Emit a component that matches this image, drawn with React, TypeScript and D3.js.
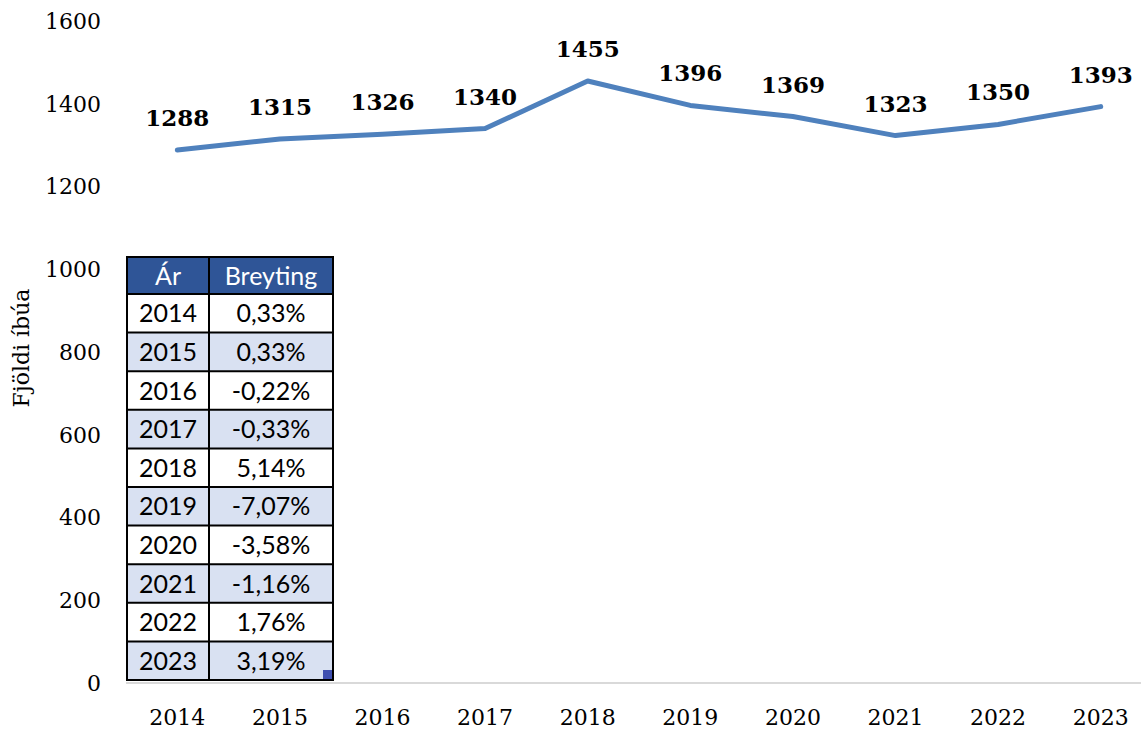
import React from "react";
import * as d3 from "d3";

const years = ["2014", "2015", "2016", "2017", "2018", "2019", "2020", "2021", "2022", "2023"];
const residents = [1288, 1315, 1326, 1340, 1455, 1396, 1369, 1323, 1350, 1393];
const yTicks = [0, 200, 400, 600, 800, 1000, 1200, 1400, 1600];
const tableHeader = ["Ár", "Breyting"];
const tableYears = ["2014", "2015", "2016", "2017", "2018", "2019", "2020", "2021", "2022", "2023"];
const tableChanges = ["0,33%", "0,33%", "-0,22%", "-0,33%", "5,14%", "-7,07%", "-3,58%", "-1,16%", "1,76%", "3,19%"];

const W = 1141;
const H = 733;

export default function App() {
  const x = d3.scaleBand<string>().domain(years).range([126, 1152]);
  const y = d3.scaleLinear().domain([0, 1600]).range([683, 21]);
  const line = d3
    .line<number>()
    .x((_, i) => (x(years[i]) as number) + x.bandwidth() / 2)
    .y((d) => y(d));

  const serif = "'DejaVu Serif', serif";
  const sans = "Lato, 'Open Sans', sans-serif";

  // table layout
  const tX = d3.scaleOrdinal<number, number>().domain([0, 1, 2]).range([127, 209, 333]);
  const rowY = d3.scaleLinear().domain([0, 10]).range([294, 680]);
  const headTop = 257;

  return (
    <svg width={W} height={H} style={{ position: "absolute", left: 0, top: 0, background: "#fff" }}>
      {/* y tick labels */}
      {yTicks.map((t) => (
        <text key={t} x={101} y={y(t)} dy="0.36em" textAnchor="end" fontFamily={serif} fontSize={22} fill="#000">
          {t}
        </text>
      ))}
      {/* y title */}
      <text
        transform={`translate(29,348) rotate(-90)`}
        textAnchor="middle"
        fontFamily={serif}
        fontSize={22}
        fill="#000"
      >
        Fjöldi íbúa
      </text>
      {/* x axis line */}
      <line x1={126} x2={W} y1={y(0)} y2={y(0)} stroke="#D9D9D9" strokeWidth={2} />
      {/* x labels */}
      {years.map((yr) => (
        <text
          key={yr}
          x={(x(yr) as number) + x.bandwidth() / 2}
          y={725}
          textAnchor="middle"
          fontFamily={serif}
          fontSize={22}
          fill="#000"
        >
          {yr}
        </text>
      ))}
      {/* line */}
      <path d={line(residents) || ""} fill="none" stroke="#4F81BD" strokeWidth={5} strokeLinecap="round" strokeLinejoin="round" />
      {/* data labels */}
      {residents.map((v, i) => (
        <text
          key={i}
          x={(x(years[i]) as number) + x.bandwidth() / 2}
          y={y(v) - 24}
          textAnchor="middle"
          fontFamily={serif}
          fontWeight="bold"
          fontSize={23}
          fill="#000"
        >
          {v}
        </text>
      ))}
      {/* table */}
      <g>
        <rect x={tX(0)} y={headTop} width={tX(2) - tX(0)} height={rowY(0) - headTop} fill="#2F5597" />
        {tableYears.map((yr, i) => (
          <rect
            key={yr}
            x={tX(0)}
            y={rowY(i)}
            width={tX(2) - tX(0)}
            height={rowY(i + 1) - rowY(i)}
            fill={i % 2 === 1 ? "#D9E1F2" : "#FFFFFF"}
          />
        ))}
        {tableHeader.map((h, c) => (
          <text
            key={h}
            x={(tX(c) + tX(c + 1)) / 2}
            y={(headTop + rowY(0)) / 2}
            dy="0.36em"
            textAnchor="middle"
            fontFamily={sans}
            fontSize={25}
            fill="#fff"
          >
            {h}
          </text>
        ))}
        {tableYears.map((yr, i) => (
          <g key={yr}>
            <text
              x={(tX(0) + tX(1)) / 2}
              y={(rowY(i) + rowY(i + 1)) / 2}
              dy="0.36em"
              textAnchor="middle"
              fontFamily={sans}
              fontSize={25}
              fill="#000"
            >
              {yr}
            </text>
            <text
              x={(tX(1) + tX(2)) / 2}
              y={(rowY(i) + rowY(i + 1)) / 2}
              dy="0.36em"
              textAnchor="middle"
              fontFamily={sans}
              fontSize={25}
              fill="#000"
            >
              {tableChanges[i]}
            </text>
          </g>
        ))}
        {/* grid lines */}
        {d3.range(0, 11).map((i) => (
          <line key={i} x1={tX(0)} x2={tX(2)} y1={rowY(i)} y2={rowY(i)} stroke="#000" strokeWidth={2} />
        ))}
        <line x1={tX(1)} x2={tX(1)} y1={headTop} y2={rowY(10)} stroke="#000" strokeWidth={2} />
        <rect x={tX(0)} y={headTop} width={tX(2) - tX(0)} height={rowY(10) - headTop} fill="none" stroke="#000" strokeWidth={2} />
        <rect x={tX(2) - 10} y={rowY(10) - 10} width={9} height={9} fill="#3F4FB0" />
      </g>
    </svg>
  );
}
